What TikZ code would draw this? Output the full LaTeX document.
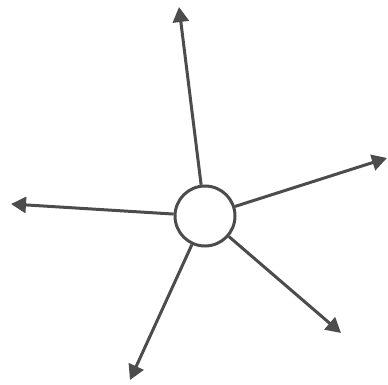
\documentclass[tikz,border=0pt]{standalone}
\usepackage{tikz}
\usetikzlibrary{arrows.meta}

\begin{document}
\begin{tikzpicture}[
    x=1pt, y=-1pt,
    hub/.style={circle, draw=black!70, line width=3pt, minimum size=60pt, inner sep=0pt, fill=white},
    spoke/.style={draw=black!70, line width=3pt, -{Triangle[length=15pt, width=16pt]}}
]

    % Bounding box
    \useasboundingbox (0,0) rectangle (388,385);

    % Centre
    \node[hub] (Hub) at (205,216) {};

    % Arrow ends
    \coordinate (Top)      at (179,7);
    \coordinate (Right)    at (387,158);
    \coordinate (Left)     at (11,204);
    \coordinate (DownR)    at (341,333);
    \coordinate (DownL)    at (130,380);

    % Spokes
    \draw[spoke] (Hub) -- (Top);
    \draw[spoke] (Hub) -- (Right);
    \draw[spoke] (Hub) -- (Left);
    \draw[spoke] (Hub) -- (DownR);
    \draw[spoke] (Hub) -- (DownL);

\end{tikzpicture}
\end{document}
